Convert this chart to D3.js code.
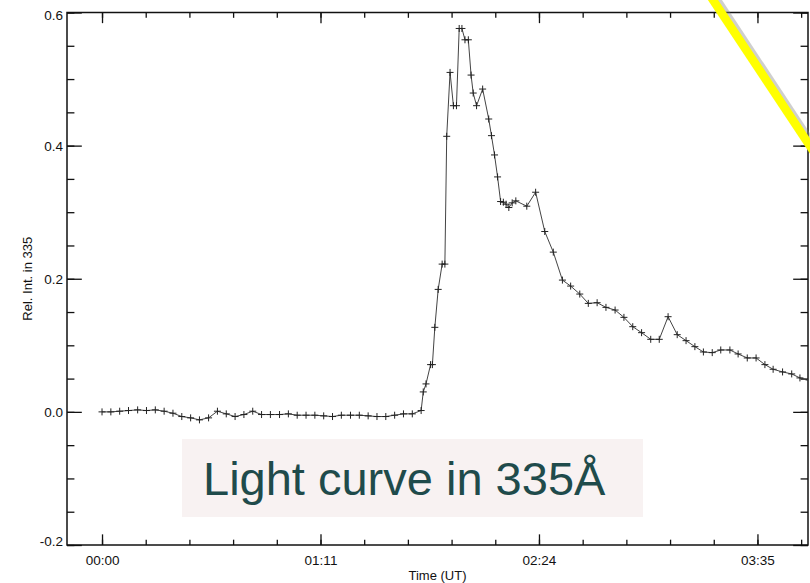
<!DOCTYPE html>
<html>
<head>
<meta charset="utf-8">
<script src="https://cdn.jsdelivr.net/npm/d3@7"></script>
<style>
  body { margin: 0; background: #fff; }
  svg { display: block; font-family: "Liberation Sans", Arial, sans-serif; }
</style>
</head>
<body>
<div id="chart"></div>
<script>
// time in minutes after 00:00 UT
var times = [0.0, 2.9, 5.8, 8.7, 11.7, 14.6, 17.5, 20.4, 23.3, 26.2,
  29.1, 32.0, 35.0, 37.9, 40.8, 43.7, 46.6, 49.5, 52.4, 55.3,
  58.3, 61.2, 64.1, 67.0, 69.9, 72.8, 75.7, 78.6, 81.6, 84.5,
  87.4, 90.3, 93.2, 96.1, 99.0, 101.9, 104.8,
  105.5, 106.4, 107.9, 108.5, 109.3, 110.4, 111.7, 112.6,
  113.2, 114.3, 115.4, 116.4, 117.3, 118.2, 119.2, 120.3,
  121.2, 121.9, 123.0, 125.0, 127.0, 127.9, 128.9, 129.9,
  130.9, 131.8, 132.7, 133.6, 134.7, 135.9, 139.5, 142.4,
  145.4, 148.2, 151.2, 153.9, 156.9, 159.7, 162.6, 165.5, 168.5, 171.4,
  174.3, 177.2, 180.2, 183.0, 185.9, 188.9, 191.8, 194.7, 197.5, 200.4,
  203.2, 206.2, 208.9, 211.9, 214.8, 217.7, 220.4, 223.5, 226.5, 229.2,
  232.2];

// relative intensity in 335
var relInt = [0.000, 0.000, 0.001, 0.002, 0.003, 0.002, 0.003, 0.001, -0.002, -0.007,
  -0.009, -0.012, -0.009, 0.001, -0.003, -0.007, -0.004, 0.001, -0.004, -0.004,
  -0.004, -0.003, -0.005, -0.005, -0.005, -0.006, -0.007, -0.005, -0.005, -0.005,
  -0.006, -0.007, -0.007, -0.005, -0.003, -0.003, 0.002,
  0.030, 0.042, 0.071, 0.071, 0.127, 0.184, 0.222, 0.222,
  0.414, 0.510, 0.460, 0.460, 0.576, 0.576, 0.559, 0.559,
  0.506, 0.479, 0.460, 0.485, 0.440, 0.415, 0.386, 0.353,
  0.316, 0.315, 0.312, 0.307, 0.314, 0.317, 0.309, 0.330,
  0.271, 0.240, 0.198, 0.189, 0.177, 0.163, 0.164, 0.157, 0.153, 0.142,
  0.128, 0.119, 0.109, 0.109, 0.143, 0.116, 0.107, 0.098, 0.090, 0.089,
  0.093, 0.093, 0.087, 0.081, 0.081, 0.071, 0.064, 0.060, 0.057, 0.051,
  0.048];

var xTickMinutes = [0, 71.75, 143.5, 215.25];
var xTickLabels = ["00:00", "01:11", "02:24", "03:35"];
var yTicks = [-0.2, 0.0, 0.2, 0.4, 0.6];
var yTickLabels = ["-0.2", "0.0", "0.2", "0.4", "0.6"];

var W = 810, H = 583;
var pLeft = 67, pRight = 808, pTop = 12.5, pBottom = 545;

var svg = d3.select("#chart").append("svg")
  .attr("width", W).attr("height", H);

svg.append("rect").attr("width", W).attr("height", H).attr("fill", "#fff");

var x = d3.scaleLinear().domain([-11.5, 231.85]).range([pLeft, pRight]);
var y = d3.scaleLinear().domain([-0.2, 0.6]).range([pBottom, pTop]);

// minor ticks
var xMinor = d3.range(0, 232, 71.75 / 5);
var yMinor = d3.range(-0.2, 0.6001, 0.05);

var pw = pRight - pLeft, ph = pBottom - pTop;
var ytl = 0.02 * pw, xtl = 0.02 * ph;

function noDomain(g) { g.select(".domain").remove(); }

// bottom
svg.append("g").attr("transform", "translate(0," + pBottom + ")")
  .call(d3.axisBottom(x).tickValues(xMinor).tickSize(-xtl / 2).tickFormat(""))
  .call(noDomain);
svg.append("g").attr("class", "xaxis").attr("transform", "translate(0," + pBottom + ")")
  .call(d3.axisBottom(x).tickValues(xTickMinutes).tickSize(-xtl).tickPadding(10)
    .tickFormat(function(d, i) { return xTickLabels[i]; }))
  .call(noDomain);
// top
svg.append("g").attr("transform", "translate(0," + pTop + ")")
  .call(d3.axisTop(x).tickValues(xMinor).tickSize(-xtl / 2).tickFormat(""))
  .call(noDomain);
svg.append("g").attr("transform", "translate(0," + pTop + ")")
  .call(d3.axisTop(x).tickValues(xTickMinutes).tickSize(-xtl).tickFormat(""))
  .call(noDomain);
// left
svg.append("g").attr("transform", "translate(" + pLeft + ",0)")
  .call(d3.axisLeft(y).tickValues(yMinor).tickSize(-ytl / 2).tickFormat(""))
  .call(noDomain);
svg.append("g").attr("class", "yaxis").attr("transform", "translate(" + pLeft + ",0)")
  .call(d3.axisLeft(y).tickValues(yTicks).tickSize(-ytl).tickPadding(4)
    .tickFormat(function(d, i) { return yTickLabels[i]; }))
  .call(noDomain);
// right
svg.append("g").attr("transform", "translate(" + pRight + ",0)")
  .call(d3.axisRight(y).tickValues(yMinor).tickSize(-ytl / 2).tickFormat(""))
  .call(noDomain);
svg.append("g").attr("transform", "translate(" + pRight + ",0)")
  .call(d3.axisRight(y).tickValues(yTicks).tickSize(-ytl).tickFormat(""))
  .call(noDomain);

svg.selectAll(".tick line").attr("stroke", "#111").attr("stroke-width", 1.3);
svg.selectAll(".xaxis text").attr("font-size", 13.5).attr("fill", "#111").attr("font-family", "Liberation Sans");
// IDL pulls the end labels inward a little
svg.selectAll(".yaxis text").attr("font-size", 13.5).attr("fill", "#111").attr("font-family", "Liberation Sans")
  .attr("dy", function(d, i) { return i === 0 ? "0.05em" : (i === yTicks.length - 1 ? "0.55em" : "0.35em"); });

// frame
svg.append("rect")
  .attr("x", pLeft).attr("y", pTop).attr("width", pw).attr("height", ph)
  .attr("fill", "none").attr("stroke", "#111").attr("stroke-width", 1.5);

// titles
svg.append("text").attr("x", (pLeft + pRight) / 2).attr("y", 580)
  .attr("text-anchor", "middle").attr("font-size", 13).attr("fill", "#111")
  .text("Time (UT)");
svg.append("text").attr("transform", "translate(32," + (pTop + pBottom) / 2 + ") rotate(-90)")
  .attr("text-anchor", "middle").attr("font-size", 13).attr("fill", "#111")
  .text("Rel. Int. in 335");

// data
var pts = times.map(function(t, i) { return [t, relInt[i]]; });

svg.append("clipPath").attr("id", "clip").append("rect")
  .attr("x", pLeft).attr("y", pTop).attr("width", pw).attr("height", ph);

var plot = svg.append("g").attr("clip-path", "url(#clip)");

plot.append("path").datum(pts)
  .attr("d", d3.line().x(function(d) { return x(d[0]); }).y(function(d) { return y(d[1]); }))
  .attr("fill", "none").attr("stroke", "#444").attr("stroke-width", 1);

var s = 3.5;
plot.selectAll(".pt").data(pts).enter().append("path")
  .attr("class", "pt")
  .attr("d", function(d) {
    var px = x(d[0]), py = y(d[1]);
    return "M" + (px - s) + "," + py + "H" + (px + s) + "M" + px + "," + (py - s) + "V" + (py + s);
  })
  .attr("stroke", "#222").attr("stroke-width", 1);

// label box
svg.append("rect").attr("x", 182).attr("y", 439).attr("width", 461).attr("height", 78)
  .attr("fill", "#f8f2f2");
svg.append("text").attr("x", 203).attr("y", 495)
  .attr("font-size", 47).attr("fill", "#1f4b4b")
  .text("Light curve in 335Å");

// yellow marker stroke
svg.append("line").attr("x1", 714).attr("y1", -3).attr("x2", 817).attr("y2", 153)
  .attr("stroke", "#888").attr("stroke-opacity", 0.4).attr("stroke-width", 10);
svg.append("line").attr("x1", 711).attr("y1", -3).attr("x2", 814).attr("y2", 152)
  .attr("stroke", "#ffff00").attr("stroke-width", 8.5);
</script>
</body>
</html>
